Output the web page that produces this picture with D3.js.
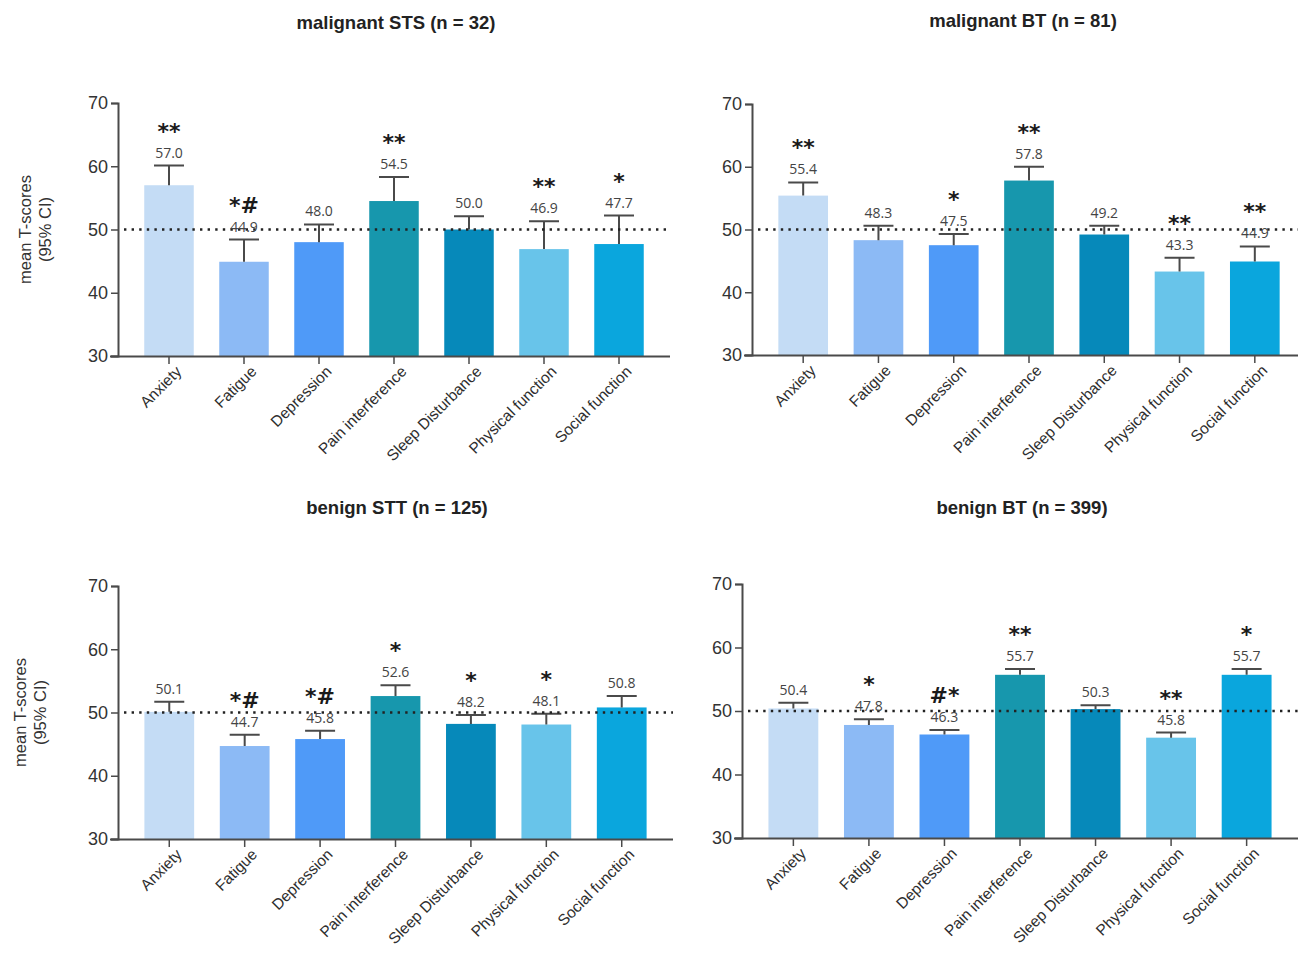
<!DOCTYPE html>
<html lang="en">
<head>
    <meta charset="UTF-8">
    <script src="https://cdn.jsdelivr.net/npm/d3@7"></script>
    <style>
        body { margin: 0; background: #fff; }
        svg { display: block; font-family: "Liberation Sans", Arial, sans-serif; }
    </style>
</head>
<body>
<div id="fig"></div>
<script>
    const categories = ["Anxiety", "Fatigue", "Depression", "Pain interference",
        "Sleep Disturbance", "Physical function", "Social function"];
    const barColors = ["#c4dcf5", "#8cbaf5", "#4f9af8", "#1797ad", "#0689ba", "#68c4ea", "#0aa6dd"];
    const yTicks = [30, 40, 50, 60, 70];
    const reference = 50;

    // malignant STS
    const stsMean = [57.0, 44.9, 48.0, 54.5, 50.0, 46.9, 47.7];
    const stsUpper = [60.1, 48.4, 50.8, 58.3, 52.1, 51.3, 52.2];
    const stsMarks = ["**", "*#", "", "**", "", "**", "*"];
    // malignant BT
    const mbtMean = [55.4, 48.3, 47.5, 57.8, 49.2, 43.3, 44.9];
    const mbtUpper = [57.5, 50.6, 49.3, 60.0, 50.6, 45.5, 47.3];
    const mbtMarks = ["**", "", "*", "**", "", "**", "**"];
    // benign STT
    const sttMean = [50.1, 44.7, 45.8, 52.6, 48.2, 48.1, 50.8];
    const sttUpper = [51.7, 46.5, 47.1, 54.3, 49.6, 49.8, 52.6];
    const sttMarks = ["", "*#", "*#", "*", "*", "*", ""];
    // benign BT
    const bbtMean = [50.4, 47.8, 46.3, 55.7, 50.3, 45.8, 55.7];
    const bbtUpper = [51.3, 48.7, 47.0, 56.6, 50.9, 46.6, 56.6];
    const bbtMarks = ["", "*", "#*", "**", "", "**", "*"];

    const titles = ["malignant STS (n = 32)", "malignant BT (n = 81)",
        "benign STT (n = 125)", "benign BT (n = 399)"];

    // panel frames: y-axis x, right end of x-axis, top (70) and bottom (30)
    const layout = [
        {x0: 118, x1: 670, top: 103, bottom: 356, tx: 396, ty: 29, yTitle: [25, 45]},
        {x0: 752, x1: 1306, top: 104, bottom: 355, tx: 1023, ty: 27, yTitle: null},
        {x0: 118, x1: 673, top: 586, bottom: 839, tx: 397, ty: 514, yTitle: [20, 40]},
        {x0: 742, x1: 1298, top: 584, bottom: 838, tx: 1022, ty: 514, yTitle: null}
    ];
    const panelData = [
        [stsMean, stsUpper, stsMarks],
        [mbtMean, mbtUpper, mbtMarks],
        [sttMean, sttUpper, sttMarks],
        [bbtMean, bbtUpper, bbtMarks]
    ];

    const width = 1298, height = 956;
    const svg = d3.select("#fig").append("svg")
        .attr("width", width)
        .attr("height", height);

    const axisColor = "#4a4a4a";

    layout.forEach((L, p) => {
        const [means, upper, marks] = panelData[p];
        const rows = categories.map((c, i) => ({cat: c, mean: means[i], up: upper[i], mark: marks[i], color: barColors[i]}));

        const x = d3.scaleBand().domain(categories).range([L.x0, L.x1])
            .paddingInner(0.34).paddingOuter(0.35);
        const y = d3.scaleLinear().domain([30, 70]).range([L.bottom, L.top]);
        const g = svg.append("g");

        // title
        g.append("text")
            .attr("x", L.tx).attr("y", L.ty)
            .attr("text-anchor", "middle")
            .style("font-size", "18.5px").style("font-weight", "bold")
            .attr("fill", "#222")
            .text(titles[p]);

        // bars
        g.selectAll(".bar").data(rows).join("rect")
            .attr("class", "bar")
            .attr("x", d => x(d.cat))
            .attr("width", x.bandwidth())
            .attr("y", d => y(d.mean))
            .attr("height", d => y(30) - y(d.mean))
            .attr("fill", d => d.color);

        // error bars (upper whisker only)
        const capW = 30;
        g.selectAll(".whisker").data(rows).join("path")
            .attr("class", "whisker")
            .attr("d", d => {
                const cx = x(d.cat) + x.bandwidth() / 2;
                return `M${cx},${y(d.mean)}V${y(d.up)}M${cx - capW / 2},${y(d.up)}H${cx + capW / 2}`;
            })
            .attr("stroke", axisColor).attr("stroke-width", 2).attr("fill", "none");

        // reference line at 50
        g.append("line")
            .attr("x1", L.x0 + 6).attr("x2", L.x1)
            .attr("y1", y(reference)).attr("y2", y(reference))
            .attr("stroke", "#222").attr("stroke-width", 2.4)
            .attr("stroke-dasharray", "2.4,5.2");

        // value labels
        g.selectAll(".val").data(rows).join("text")
            .attr("class", "val")
            .attr("x", d => x(d.cat) + x.bandwidth() / 2)
            .attr("y", d => y(d.up) - 8)
            .attr("text-anchor", "middle")
            .style("font-family", "'Open Sans', sans-serif")
            .style("font-size", "14px")
            .attr("fill", "#444")
            .text(d => d3.format(".1f")(d.mean));

        // significance marks
        g.selectAll(".mark").data(rows.filter(d => d.mark)).join("text")
            .attr("class", "mark")
            .attr("x", d => x(d.cat) + x.bandwidth() / 2)
            .attr("y", d => y(d.up) - 27)
            .attr("text-anchor", "middle")
            .style("font-family", "'DejaVu Sans', sans-serif")
            .style("font-weight", "bold")
            .style("font-size", "22px")
            .attr("fill", "#1a1a1a")
            .text(d => d.mark);

        // y axis
        const yAxis = g.append("g")
            .attr("transform", `translate(${L.x0},0)`)
            .call(d3.axisLeft(y).tickValues(yTicks).tickSize(7).tickPadding(3));
        yAxis.select(".domain").attr("stroke", axisColor).attr("stroke-width", 2);
        yAxis.selectAll(".tick line").attr("stroke", axisColor).attr("stroke-width", 1.5);
        yAxis.selectAll(".tick text")
            .style("font-size", "18px").style("font-family", "'Liberation Sans', Arial, sans-serif")
            .attr("fill", "#333");

        // x axis
        const xAxis = g.append("g")
            .attr("transform", `translate(0,${L.bottom})`)
            .call(d3.axisBottom(x).tickSize(8).tickSizeOuter(0));
        xAxis.select(".domain").attr("stroke", axisColor).attr("stroke-width", 2)
            .attr("d", `M${L.x0 - 8},0.5H${L.x1}`);
        xAxis.selectAll(".tick line").attr("stroke", axisColor).attr("stroke-width", 1.5);
        xAxis.selectAll(".tick text")
            .style("font-size", "15.5px").style("font-family", "'Liberation Sans', Arial, sans-serif")
            .attr("fill", "#2e2e2e")
            .attr("text-anchor", "end")
            .attr("transform", "translate(4,7) rotate(-45)")
            .attr("dy", "0.35em")
            .attr("y", 8).attr("x", 0);

        // y-axis title
        if (L.yTitle) {
            const cy = (L.top + L.bottom) / 2;
            ["mean T-scores", "(95% CI)"].forEach((t, k) => {
                g.append("text")
                    .attr("transform", `translate(${L.yTitle[k]},${cy}) rotate(-90)`)
                    .attr("text-anchor", "middle")
                    .attr("dy", "0.35em")
                    .style("font-size", "16.5px")
                    .attr("fill", "#333")
                    .text(t);
            });
        }
    });
</script>
</body>
</html>
